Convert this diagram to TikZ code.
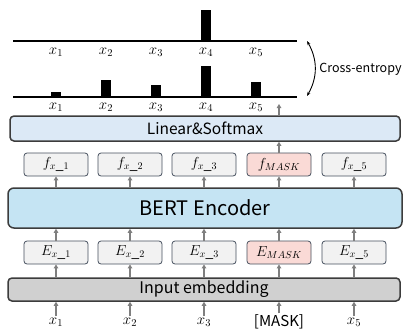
\RequirePackage{fix-cm}
\documentclass[tikz,border=0pt]{standalone}
\usepackage{fontspec}
\setmainfont{Noto Sans CJK JP}
\usepackage{xcolor}
\usepackage{tikz}
\usetikzlibrary{arrows.meta}
\usetikzlibrary{calc}
\usetikzlibrary{positioning}

\definecolor{bertblue}{HTML}{C5E4F3}
\definecolor{linblue}{HTML}{DCE9F6}
\definecolor{boxgray}{HTML}{F2F2F2}
\definecolor{maskpink}{HTML}{FADAD6}
\definecolor{embgray}{HTML}{D0D0D0}
\definecolor{darkline}{HTML}{3C3C3C}
\definecolor{boxline}{HTML}{46505E}
\definecolor{arrgray}{HTML}{7F7F7F}

\begin{document}
\begin{tikzpicture}[x=1pt,y=-1pt,semithick]
 	\tikzstyle{box}=[draw=boxline, line width=0.8pt, rounded corners=3pt, fill=boxgray, minimum width=64pt, minimum height=23pt, inner sep=0pt, font=\fontsize{14.5}{16}\selectfont]
 	\tikzstyle{wide}=[draw=darkline, line width=1.5pt, rounded corners=4pt, inner sep=0pt]
 	\tikzstyle{arr}=[draw=arrgray, line width=1.3pt, -{Triangle[length=4pt,width=4.5pt]}]
 	\tikzstyle{lbl}=[inner sep=1pt, font=\fontsize{15}{17}\selectfont]
 	\useasboundingbox (0,0) rectangle (409,329);

 	% stacked blocks
 	\node[wide, fill=embgray, minimum width=392pt, minimum height=23pt, font=\fontsize{16}{18}\selectfont] (emb) at (204,289.5) {Input embedding};
 	\node[wide, fill=bertblue, minimum width=394pt, minimum height=40pt, rounded corners=6pt, font=\fontsize{20}{22}\selectfont] (bert) at (205,208) {BERT Encoder};
 	\node[wide, fill=linblue, minimum width=390pt, minimum height=25pt, font=\fontsize{15.5}{17}\selectfont] (lin) at (205,128.5) {Linear\&Softmax};

 	\foreach \i/\c/\t in {1/56/$x_1$,2/130/$x_2$,3/204/$x_3$,4/279/{[MASK]},5/354/$x_5$}{
 		\node[lbl] (x\i) at (\c,322) {\t};
 		\draw[arr] (x\i.north) -- (x\i.north |- emb.south);
 	}
 	\foreach \i/\c in {1/56,2/130,3/204,5/354}{
 		\node[box] (E\i) at (\c,252.5) {$E_{x\_\i}$};
 		\node[box] (f\i) at (\c,164.5) {$f_{x\_\i}$};
 	}
 	\node[box, fill=maskpink] (E4) at (279,252.5) {$E_{MASK}$};
 	\node[box, fill=maskpink] (f4) at (279,164.5) {$f_{MASK}$};

 	\foreach \i in {1,...,5}{
 		\draw[arr] (emb.north -| E\i) -- (E\i.south);
 		\draw[arr] (E\i.north) -- (E\i.north |- bert.south);
 		\draw[arr] (bert.north -| f\i) -- (f\i.south);
 	}
 	\draw[arr] (f4.north) -- (f4.north |- lin.south);
 	\coordinate (out) at (279,104);
 	\draw[arr] (lin.north -| out) -- (out);

 	% output distributions
 	\draw[line width=1.5pt] (13,41) -- (297,41);
 	\draw[line width=1.5pt] (13,97) -- (297,97);
 	\fill (201,41) rectangle (211,10);
 	\foreach \i/\h in {1/5,2/17,3/12,4/31,5/15}{
 		\fill ({56+50*(\i-1)-5},97) rectangle ({56+50*(\i-1)+5},97-\h);
 		\node[lbl] (top\i) at ({56+50*(\i-1)},52) {$x_\i$};
 		\node[lbl] (bot\i) at ({56+50*(\i-1)},107) {$x_\i$};
 	}

 	% loss
 	\coordinate (ceT) at (307,41);
 	\coordinate (ceB) at (307,96);
 	\draw[line width=0.9pt, {Stealth[length=4pt,width=3pt]}-{Stealth[length=4pt,width=3pt]}] (ceT) to[bend left=30] (ceB);
 	\node[anchor=west, inner sep=0pt, font=\fontsize{12.5}{14}\selectfont] (ce) at (319,69) {Cross-entropy};
\end{tikzpicture}
\end{document}
